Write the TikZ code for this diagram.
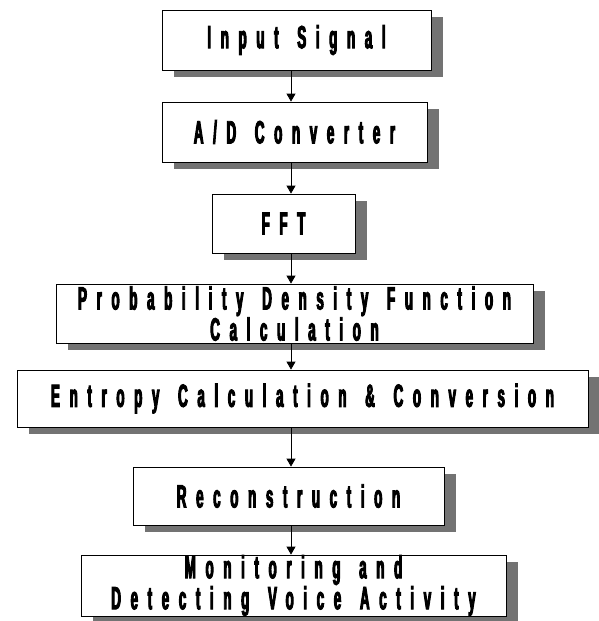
\documentclass[tikz,border=0pt]{standalone}
\usepackage{fontspec}
\setmainfont{Liberation Sans}
\newfontfamily\boxfont[FakeStretch=0.42,LetterSpace=30,WordSpace=1.4,BoldFeatures={FakeBold=3}]{Liberation Sans}
\usetikzlibrary{arrows.meta,shadows}
\begin{document}
\begin{tikzpicture}[x=1pt,y=-1pt,
  box/.style={draw=black, line width=0.8pt, fill=white, inner sep=0pt, align=center,
    font=\boxfont\bfseries\fontsize{32}{31}\selectfont,
    drop shadow={shadow xshift=12pt, shadow yshift=-7pt, opacity=1, fill=black!55}},
  arr/.style={line width=0.8pt, -{Triangle[width=9pt,length=8pt]}}]
\useasboundingbox (0,0) rectangle (599,621);
\coordinate (ax) at (291,0);
\node[box, minimum width=269pt, minimum height=60pt] (n1) at (296.5,40) {Input Signal};
\node[box, minimum width=265pt, minimum height=60pt] (n2) at (294.5,132) {A/D Converter};
\node[box, minimum width=143pt, minimum height=59pt] (n3) at (283.5,223.5) {FFT};
\node[box, minimum width=477pt, minimum height=59pt] (n4) at (294.5,313.5) {Probability Density Function\\Calculation};
\node[box, minimum width=571pt, minimum height=57pt] (n5) at (302.5,398.5) {Entropy Calculation \& Conversion};
\node[box, minimum width=311pt, minimum height=58pt] (n6) at (288.5,496) {Reconstruction};
\node[box, minimum width=425pt, minimum height=59pt] (n7) at (293.5,585.5) {Monitoring and\\Detecting Voice Activity};
\draw[arr] (n1.south -| ax) -- (n2.north -| ax);
\draw[arr] (n2.south -| ax) -- (n3.north -| ax);
\draw[arr] (n3.south -| ax) -- (n4.north -| ax);
\draw[arr] (n4.south -| ax) -- (n5.north -| ax);
\draw[arr] (n5.south -| ax) -- (n6.north -| ax);
\draw[arr] (n6.south -| ax) -- (n7.north -| ax);
\end{tikzpicture}
\end{document}
